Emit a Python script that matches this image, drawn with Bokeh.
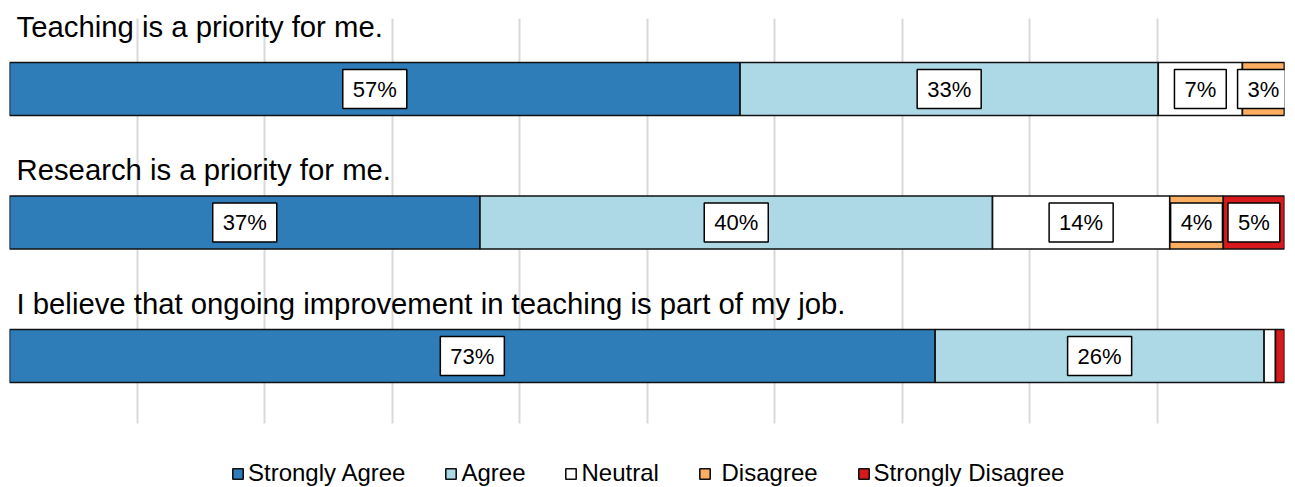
from bokeh.plotting import figure
from bokeh.models import ColumnDataSource, Range1d, Label, Legend, LegendItem, Grid, FixedTicker
from bokeh.embed import file_html
from bokeh.resources import INLINE

# Survey statements (one bar each) and the share of each response, in percent
statements = [
    "Teaching is a priority for me.",
    "Research is a priority for me.",
    "I believe that ongoing improvement in teaching is part of my job.",
]
responses = ["Strongly Agree", "Agree", "Neutral", "Disagree", "Strongly Disagree"]
legend_labels = ["Strongly Agree", "Agree", "Neutral", " Disagree", "Strongly Disagree"]
strongly_agree = [57.3, 36.9, 72.6]
agree = [32.8, 40.2, 25.8]
neutral = [6.6, 13.9, 0.9]
disagree = [3.3, 4.2, 0.0]
strongly_disagree = [0.0, 4.8, 0.7]
grid_ticks = [0, 10, 20, 30, 40, 50, 60, 70, 80, 90, 100]

colors = ["#2E7CB8", "#ADD8E6", "#FFFFFF", "#FDAE61", "#D7191C"]
FONT = "Liberation Sans"
MIN_LABELLED = 2.0  # segments thinner than this get no value box

series = [strongly_agree, agree, neutral, disagree, strongly_disagree]
rows = list(range(len(statements)))
data = {"row": rows}
for name, vals in zip(responses, series):
    data[name] = vals
source = ColumnDataSource(data)

# Row 0 sits at the top; the lower part of the frame holds the legend
GRID_TOP, GRID_BOTTOM = -0.528, 2.506
p = figure(
    width=1295, height=487,
    x_range=Range1d(0, 100),
    y_range=Range1d(2.985, -0.663),
    x_axis_location=None, y_axis_location=None,
    toolbar_location=None, output_backend="svg",
    min_border_left=9, min_border_right=11,
    min_border_top=0, min_border_bottom=0,
)
p.outline_line_color = None
p.background_fill_color = "white"
p.border_fill_color = "white"
for g in p.grid:
    g.visible = False

grid = Grid(dimension=0, ticker=FixedTicker(ticks=grid_ticks),
            cross_bounds=(GRID_TOP, GRID_BOTTOM),
            grid_line_color="#D9D9D9", grid_line_width=2)
p.add_layout(grid)

renderers = p.hbar_stack(
    responses, y="row", height=0.397, source=source,
    fill_color=colors, line_color="#111111", line_width=1.6,
)

# Value boxes centred in each segment
for r in rows:
    left = 0.0
    for vals in series:
        v = vals[r]
        if v >= MIN_LABELLED:
            p.add_layout(Label(
                x=left + v / 2, y=r, text=f"{round(v):.0f}%",
                text_align="center", text_baseline="middle",
                text_font=FONT, text_font_size="22px", text_color="black",
                background_fill_color="white", border_line_color="black",
                border_line_width=1.5, padding=(10, 7),
            ))
        left += v

# Statement above each bar
title_lift = [63, 53, 53]
for r, s in enumerate(statements):
    p.add_layout(Label(
        x=0, y=r, x_offset=7, y_offset=title_lift[r], text=s,
        text_align="left", text_baseline="alphabetic",
        text_font=FONT, text_font_size="29.3px", text_color="black",
    ))

legend = Legend(
    items=[LegendItem(label=lab, renderers=[rend]) for lab, rend in zip(legend_labels, renderers)],
    orientation="horizontal", location=(222, 0),
    glyph_width=13, glyph_height=13, label_standoff=4, spacing=39,
    padding=0, margin=0, border_line_color=None, background_fill_alpha=0,
    label_text_font=FONT, label_text_font_size="24px", label_text_color="black",
    label_height=27,
)
p.add_layout(legend)

open("out.html", "w").write(file_html(p, INLINE))
